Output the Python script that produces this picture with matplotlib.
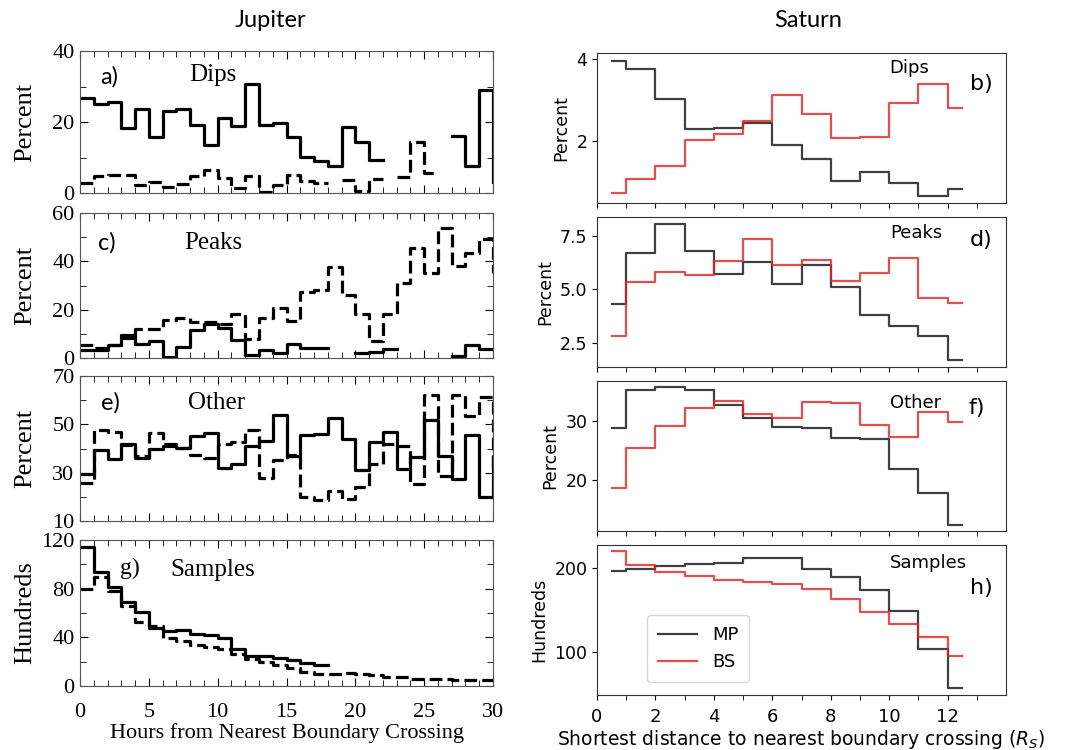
import numpy as np
import matplotlib
matplotlib.use('Agg')
from matplotlib import pyplot as plt
from matplotlib.ticker import MultipleLocator

nan = np.nan

# ---- Jupiter: percent per 1-hour bin (last entry = where the trace ends at 30 h)
hours = np.arange(31)
dips_solid = [26.9, 25.0, 25.7, 18.2, 23.8, 15.9, 23.2, 23.8, 19.2, 13.6, 21.0, 18.9, 30.7, 19.2, 19.8,
              15.7, 10.1, 9.1, 7.7, 18.7, 14.5, 9.2, nan, nan, nan, nan, nan, 16.1, 7.7, 29.0, 3.0]
dips_dash = [2.8, 4.7, 5.0, 5.0, 2.3, 3.1, 1.7, 2.6, 4.9, 6.5, 4.2, 1.4, 4.7, 0.2, 2.3,
             5.0, 3.3, 2.8, nan, 3.6, 0.5, 4.0, nan, 4.4, 14.5, 5.6, nan, nan, nan, nan, nan]
peaks_solid = [3.2, 3.2, 5.5, 9.4, 6.0, 6.9, 0.4, 4.6, 11.5, 13.9, 12.5, 7.3, 1.4, 3.2, 2.2,
               5.7, 4.2, 4.2, nan, nan, 2.2, 2.5, 3.6, nan, nan, nan, nan, 0.8, 5.5, 3.6, 3.6]
peaks_dash = [5.5, 4.2, 5.5, 8.3, 12.2, 12.2, 15.7, 16.4, 15.0, 15.0, 13.9, 18.4, 7.8, 16.6, 20.8,
              15.2, 27.2, 28.1, 37.8, 26.0, 18.4, 7.1, 18.4, 31.2, 45.4, 35.1, 54.0, 38.2, 43.4, 49.2, 35.0]
other_solid = [29.6, 39.5, 35.8, 42.0, 36.2, 39.9, 40.9, 40.3, 45.0, 46.5, 32.0, 33.7, 40.9, 42.9, 53.7,
               36.8, 45.4, 45.8, 52.8, 43.8, 31.0, 42.7, 46.8, 31.4, 36.5, 51.9, 36.8, 27.2, 45.4, 19.9, 36.5]
other_dash = [25.9, 47.8, 46.8, 41.3, 36.8, 46.4, 42.0, 40.3, 37.2, 36.2, 41.7, 42.7, 47.5, 27.9, 35.4,
              37.2, 19.9, 18.6, 22.4, 19.2, 24.1, 33.4, 41.7, 41.0, 25.4, 62.3, 28.6, 62.0, 53.3, 61.3, 30.0]
samp_solid = [114.6, 94.0, 81.6, 69.2, 61.0, 47.3, 45.0, 45.9, 43.1, 42.3, 39.6, 30.8, 24.7, 24.7, 23.1,
              21.2, 19.2, 17.0, nan, nan, nan, nan, nan, nan, nan, nan, nan, nan, nan, nan, nan]
samp_dash = [80.0, 90.0, 78.0, 65.9, 52.2, 49.5, 39.8, 36.8, 34.1, 31.9, 30.2, 26.6, 22.5, 19.8, 17.6,
             14.8, 11.5, 10.2, 10.2, 10.7, 9.6, 9.3, 7.4, 7.4, 6.0, 6.0, 5.5, 5.0, 5.0, 4.7, 4.7]

# ---- Saturn: bin centres (R_S) and values for MP / BS
dist = np.arange(0.5, 13.0, 1.0)
dips_mp = [3.95, 3.75, 3.02, 2.31, 2.33, 2.44, 1.92, 1.57, 1.03, 1.26, 0.98, 0.68, 0.85]
dips_bs = [0.74, 1.09, 1.39, 2.04, 2.19, 2.50, 3.14, 2.67, 2.09, 2.11, 2.94, 3.40, 2.80]
peaks_mp = [4.30, 6.72, 8.08, 6.78, 5.73, 6.28, 5.27, 6.16, 5.11, 3.81, 3.27, 2.80, 1.67]
peaks_bs = [2.80, 5.34, 5.81, 5.69, 6.31, 7.38, 6.13, 6.36, 5.38, 5.77, 6.47, 4.59, 4.36]
other_mp = [28.8, 35.3, 35.7, 35.3, 32.7, 30.6, 29.0, 28.9, 27.2, 26.9, 21.9, 17.9, 12.5]
other_bs = [18.6, 25.4, 29.2, 32.3, 33.4, 31.2, 30.6, 33.2, 33.0, 29.4, 27.3, 31.5, 29.8]
samp_mp = [196, 199, 202, 204, 206, 212, 211, 199, 189, 174, 149, 104, 57.5]
samp_bs = [220, 203, 195, 190, 185, 183, 181, 175, 163, 148, 133, 118, 96]

serif = 'Liberation Serif'

fig = plt.figure(figsize=(10.85, 7.5), dpi=100)

W, H = 1085., 750.


def px_axes(x0, x1, top, bottom):
    return fig.add_axes([x0 / W, 1 - bottom / H, (x1 - x0) / W, (bottom - top) / H])


# ---------------- Jupiter column
jup_boxes = [(51, 193), (213, 358), (376, 521), (540, 686)]
jup_data = [(dips_solid, dips_dash), (peaks_solid, peaks_dash), (other_solid, other_dash), (samp_solid, samp_dash)]
jup_ylim = [(0, 40), (0, 60), (10, 70), (0, 120)]
jup_yticks = [[0, 20, 40], [0, 20, 40, 60], [10, 30, 50, 70], [0, 40, 80, 120]]
jup_minor = [10, 10, 10, 20]
jup_ylab = ['Percent', 'Percent', 'Percent', 'Hundreds']
jup_letter = ['a)', 'c)', 'e)', 'g)']
jup_letter_pos = [(0.07, 0.817), (0.065, 0.793), (0.073, 0.814), (0.121, 0.808)]
jup_name = ['Dips', 'Peaks', 'Other', 'Samples']
jup_name_pos = [(0.322, 0.83), (0.322, 0.793), (0.331, 0.814), (0.322, 0.795)]

for i in range(4):
    ax = px_axes(80, 493, *jup_boxes[i])
    solid, dash = jup_data[i]
    ax.step(hours, solid, where='post', color='k', lw=2.3)
    ax.step(hours, dash, where='post', color='k', lw=2.3, linestyle=(0, (4, 1.6)))
    ax.set_xlim(0, 30)
    ax.set_ylim(*jup_ylim[i])
    ax.xaxis.set_major_locator(MultipleLocator(5))
    ax.xaxis.set_minor_locator(MultipleLocator(1))
    ax.set_yticks(jup_yticks[i])
    ax.yaxis.set_minor_locator(MultipleLocator(jup_minor[i]))
    ax.tick_params(which='both', direction='in', top=True, right=True, labelsize=16, pad=4)
    ax.tick_params(axis='x', which='both', pad=12)
    ax.tick_params(which='major', length=6)
    ax.tick_params(which='minor', length=4)
    for lab in ax.get_xticklabels() + ax.get_yticklabels():
        lab.set_family(serif)
    for s in ax.spines.values():
        s.set_color('#555555')
    ax.set_ylabel(jup_ylab[i], family=serif, fontsize=19)
    ax.yaxis.set_label_coords(-0.105, 0.5)
    lf = serif if i == 3 else 'Lato'
    ax.text(*jup_letter_pos[i], jup_letter[i], transform=ax.transAxes, family=lf, fontsize=17,
            ha='center', va='center')
    ax.text(*jup_name_pos[i], jup_name[i], transform=ax.transAxes, family=serif, fontsize=18,
            ha='center', va='center')
    if i < 3:
        ax.set_xticklabels([])
    else:
        ax.set_xlabel('Hours from Nearest Boundary Crossing', family=serif, fontsize=16, labelpad=1)

# ---------------- Saturn column
sat_boxes = [(53, 203), (217, 367), (381, 531), (545, 695)]
sat_data = [(dips_mp, dips_bs), (peaks_mp, peaks_bs), (other_mp, other_bs), (samp_mp, samp_bs)]
sat_ylim = [(0.5, 4.15), (1.36, 8.39), (11.4, 36.8), (49.6, 226.8)]
sat_yticks = [[2, 4], [2.5, 5.0, 7.5], [20, 30], [100, 200]]
sat_ylab = ['Percent', 'Percent', 'Percent', 'Hundreds']
sat_letter = ['b)', 'd)', 'f)', 'h)']
sat_letter_pos = [(0.939, 0.793), (0.939, 0.847), (0.929, 0.82), (0.941, 0.713)]
sat_name = ['Dips', 'Peaks', 'Other', 'Samples']
sat_name_pos = [(0.763, 0.9), (0.78, 0.893), (0.778, 0.853), (0.81, 0.88)]

for i in range(4):
    ax = px_axes(597, 1006, *sat_boxes[i])
    mp, bs = sat_data[i]
    ax.step(dist, mp, where='mid', color='black', alpha=0.75, lw=1.6, label='MP')
    ax.step(dist, bs, where='mid', color='#dd2222', alpha=0.8, lw=1.6, label='BS')
    ax.set_xlim(0, 14)
    ax.set_ylim(*sat_ylim[i])
    ax.set_yticks(sat_yticks[i])
    if i == 1:
        ax.set_yticklabels(['2.5', '5.0', '7.5'])
    ax.set_xticks(np.arange(0, 13, 2))
    ax.set_xticks(np.arange(1, 14, 2), minor=True)
    ax.tick_params(axis='x', labelsize=13, pad=6)
    ax.tick_params(axis='y', labelsize=12.5)
    ax.tick_params(which='minor', length=3.5)
    for s in ax.spines.values():
        s.set_color('#333333')
    ax.set_ylabel(sat_ylab[i], fontsize=12.5, labelpad=4)
    ax.text(*sat_letter_pos[i], sat_letter[i], transform=ax.transAxes, fontsize=16,
            ha='center', va='center')
    ax.text(*sat_name_pos[i], sat_name[i], transform=ax.transAxes, fontsize=13,
            ha='center', va='center')
    if i < 3:
        ax.set_xticklabels([])
    else:
        ax.set_xlabel('Shortest distance to nearest boundary crossing ($R_S$)', fontsize=13.5, labelpad=1)
        ax.legend(loc='lower left', bbox_to_anchor=(0.122, 0.087), borderaxespad=0, fontsize=13,
                  handlelength=2.2, borderpad=0.6)

fig.text(270 / W, 1 - 27 / H, 'Jupiter', family='Lato', fontsize=17, ha='center', va='baseline')
fig.text(808 / W, 1 - 27 / H, 'Saturn', family='Lato', fontsize=17, ha='center', va='baseline')

fig.savefig('out.png', dpi=100)
